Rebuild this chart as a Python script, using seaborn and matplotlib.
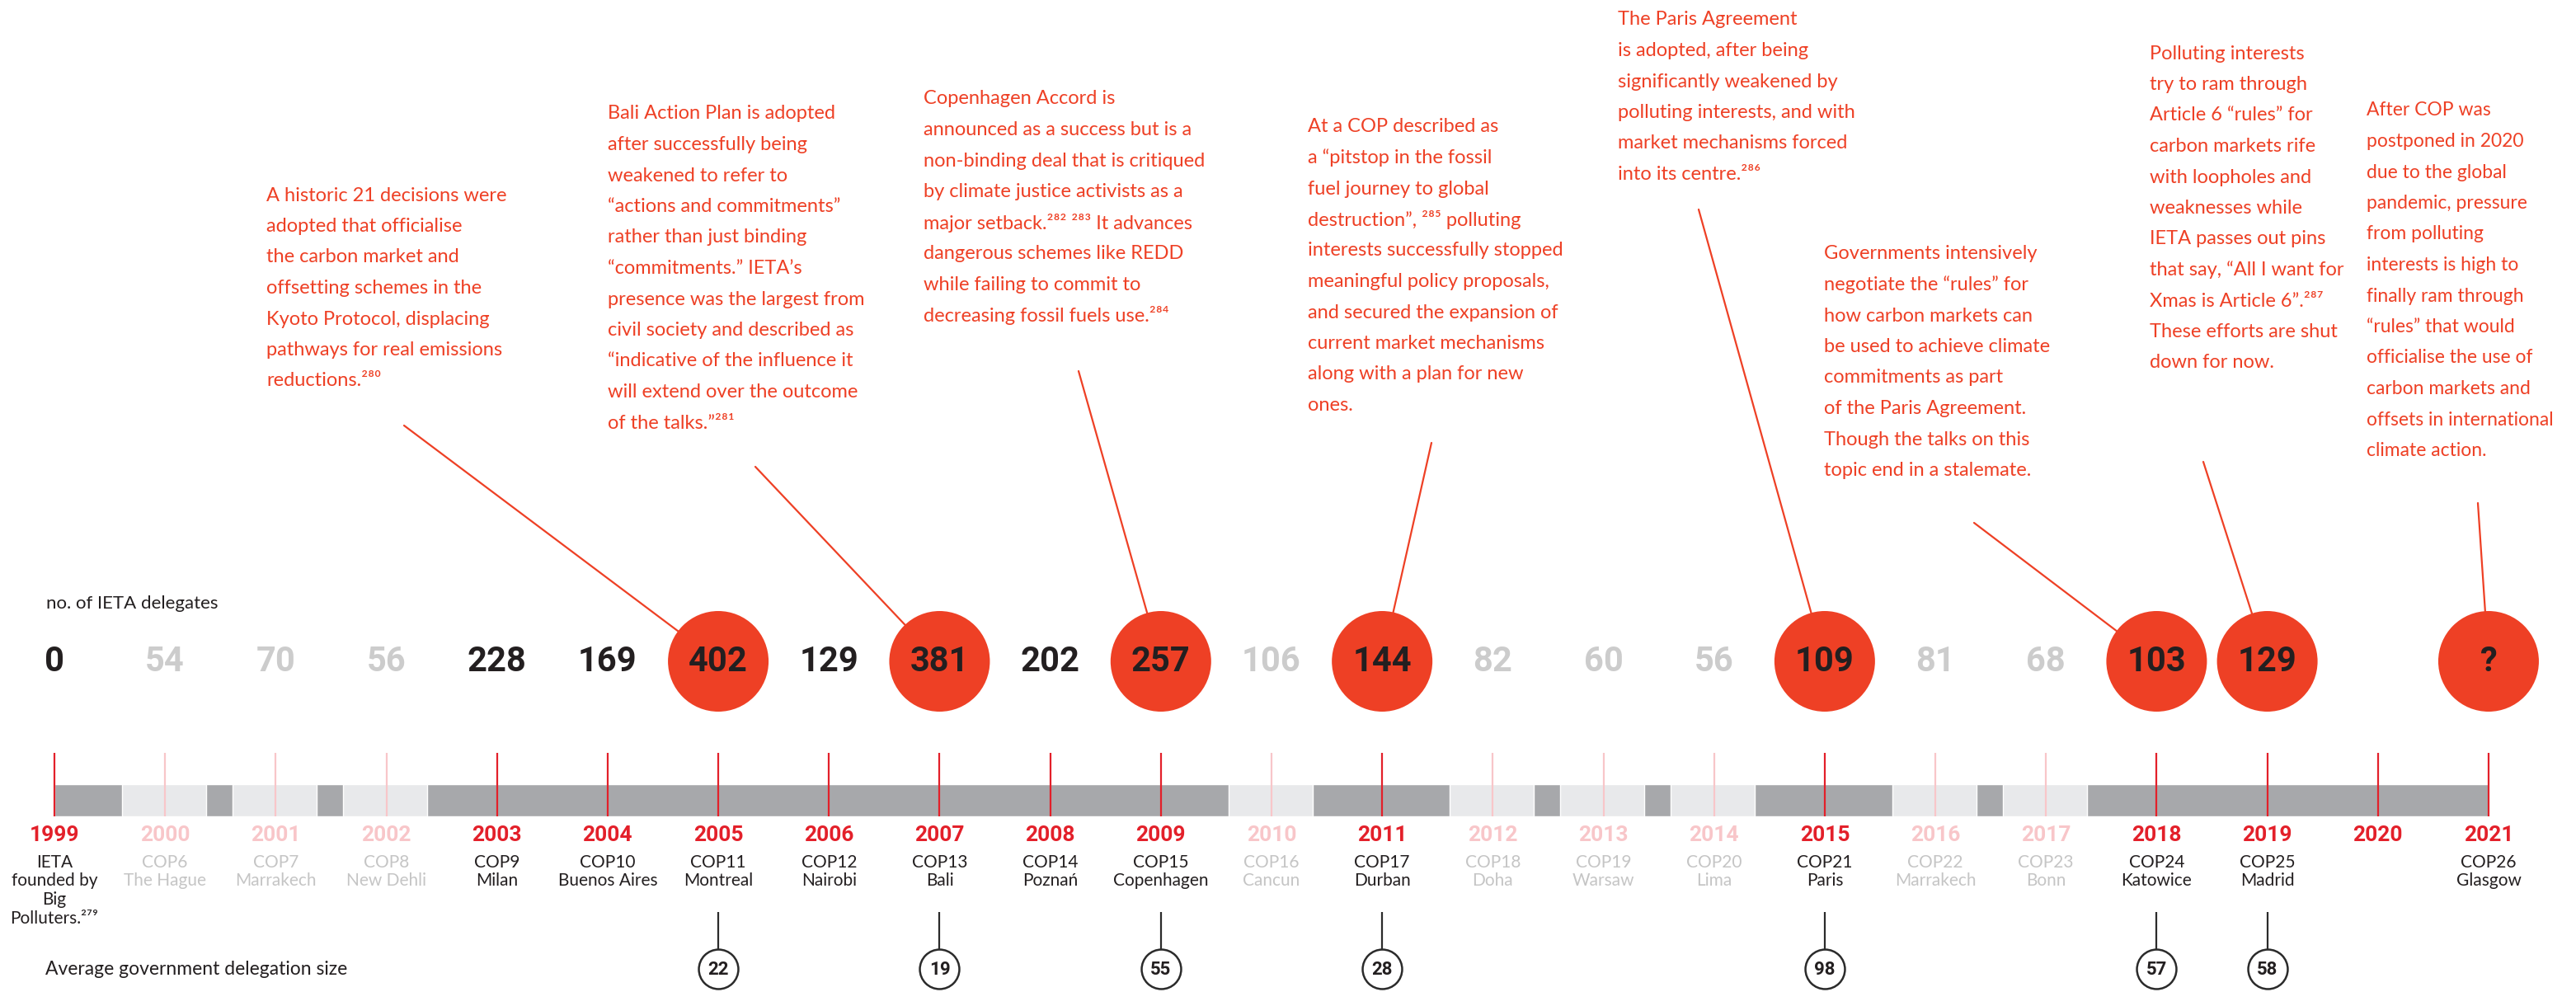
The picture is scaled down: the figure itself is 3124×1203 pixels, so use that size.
import matplotlib
matplotlib.use("Agg")
import matplotlib.pyplot as plt
import seaborn as sns
import pandas as pd

# ---- data -------------------------------------------------------------
years = list(range(1999, 2022))
ieta_delegates = ["0", "54", "70", "56", "228", "169", "402", "129", "381", "202", "257", "106",
                  "144", "82", "60", "56", "109", "81", "68", "103", "129", "", "?"]
cop_labels = ["IETA\nfounded by\nBig\nPolluters.²⁷⁹", "COP6\nThe Hague", "COP7\nMarrakech",
              "COP8\nNew Dehli", "COP9\nMilan", "COP10\nBuenos Aires", "COP11\nMontreal",
              "COP12\nNairobi", "COP13\nBali", "COP14\nPoznań", "COP15\nCopenhagen",
              "COP16\nCancun", "COP17\nDurban", "COP18\nDoha", "COP19\nWarsaw", "COP20\nLima",
              "COP21\nParis", "COP22\nMarrakech", "COP23\nBonn", "COP24\nKatowice",
              "COP25\nMadrid", "", "COP26\nGlasgow"]
faded_years = [2000, 2001, 2002, 2010, 2012, 2013, 2014, 2016, 2017]
circled_years = [2005, 2007, 2009, 2011, 2015, 2018, 2019, 2021]
gov_years = [2005, 2007, 2009, 2011, 2015, 2018, 2019]
gov_sizes = [22, 19, 55, 28, 98, 57, 58]

notes = {
    2005: ["A historic 21 decisions were", "adopted that officialise", "the carbon market and",
           "offsetting schemes in the", "Kyoto Protocol, displacing",
           "pathways for real emissions", "reductions.²⁸⁰"],
    2007: ["Bali Action Plan is adopted", "after successfully being", "weakened to refer to",
           "“actions and commitments”", "rather than just binding", "“commitments.” IETA’s",
           "presence was the largest from", "civil society and described as",
           "“indicative of the influence it", "will extend over the outcome",
           "of the talks.”²⁸¹"],
    2009: ["Copenhagen Accord is", "announced as a success but is a",
           "non-binding deal that is critiqued", "by climate justice activists as a",
           "major setback.²⁸² ²⁸³ It advances", "dangerous schemes like REDD",
           "while failing to commit to", "decreasing fossil fuels use.²⁸⁴"],
    2011: ["At a COP described as", "a “pitstop in the fossil", "fuel journey to global",
           "destruction”, ²⁸⁵ polluting", "interests successfully stopped",
           "meaningful policy proposals,", "and secured the expansion of",
           "current market mechanisms", "along with a plan for new", "ones."],
    2015: ["The Paris Agreement", "is adopted, after being", "significantly weakened by",
           "polluting interests, and with", "market mechanisms forced", "into its centre.²⁸⁶"],
    2018: ["Governments intensively", "negotiate the “rules” for", "how carbon markets can",
           "be used to achieve climate", "commitments as part", "of the Paris Agreement.",
           "Though the talks on this", "topic end in a stalemate."],
    2019: ["Polluting interests", "try to ram through", "Article 6 “rules” for",
           "carbon markets rife", "with loopholes and", "weaknesses while",
           "IETA passes out pins", "that say, “All I want for", "Xmas is Article 6”.²⁸⁷",
           "These efforts are shut", "down for now."],
    2021: ["After COP was", "postponed in 2020", "due to the global", "pandemic, pressure",
           "from polluting", "interests is high to", "finally ram through",
           "“rules” that would", "officialise the use of", "carbon markets and",
           "offsets in international", "climate action."],
}

# ---- layout (pixels) ----------------------------------------------------
W, H = 3124, 1203
X0, STEP = 66, 134.18


def px_to_year(px):
    return 1999 + (px - X0) / STEP


# text x, first line y, connector start x, y
note_pos = {
    2005: (323, 237, 490, 516),
    2007: (737, 138, 916, 566),
    2009: (1120, 120, 1308, 450),
    2011: (1586, 154, 1736, 537),
    2015: (1962, 24, 2060, 254),
    2018: (2212, 308, 2394, 634),
    2019: (2607, 65, 2672, 560),
    2021: (2870, 134, 3005, 610),
}
note_font = {2005: 17, 2007: 17, 2009: 17, 2011: 17, 2015: 17, 2018: 17, 2019: 17, 2021: 16.5}

RED = "#EE4025"
TICK_RED = "#E3202A"
PINK = "#F8C6C9"
DARK = "#231F20"
LIGHT = "#CCCCCC"
TXT = ["Lato", "DejaVu Sans"]
NUM = ["Roboto", "DejaVu Sans"]

sns.set_theme(style="white")
plt.rcParams["font.family"] = TXT

fig = plt.figure(figsize=(W / 100, H / 100), dpi=100)
ax = fig.add_axes([0, 0, 1, 1])
ax.set_xlim(px_to_year(0), px_to_year(W))
ax.set_ylim(H, 0)
ax.axis("off")

df = pd.DataFrame({"year": years, "ieta": ieta_delegates, "cop": cop_labels})
df["faded"] = df["year"].isin(faded_years)

# timeline bar
ax.barh(970.5, years[-1] - years[0], left=years[0], height=39, color="#A7A8AB", zorder=1)
ax.barh([970.5] * len(faded_years), 0.76, left=[y - 0.39 for y in faded_years], height=39,
        color="#E8E9EB", zorder=1)
ax.vlines(df["year"], 913, 990, colors=[PINK if f else TICK_RED for f in df["faded"]],
          lw=1.6, zorder=2)

ax.text(px_to_year(56), 732, "no. of IETA delegates", fontsize=16, color=DARK,
        ha="left", va="center")
ax.text(px_to_year(55), 1176, "Average government delegation size", fontsize=16.5,
        color=DARK, ha="left", va="center")

# connectors + red circles
for yr, (tx, ty, lx, ly) in note_pos.items():
    ax.plot([px_to_year(lx), yr], [ly, 802], color=RED, lw=1.6, zorder=2)
    for i, line in enumerate(notes[yr]):
        ax.text(px_to_year(tx), ty + i * 37.5, line, fontsize=note_font[yr], color=RED,
                ha="left", va="center")

sns.scatterplot(x=circled_years, y=[802] * len(circled_years), s=7716, color=RED,
                edgecolor="none", ax=ax, zorder=3, legend=False)

for _, r in df.iterrows():
    ax.text(r["year"], 802, r["ieta"], fontsize=30, fontweight="bold", family=NUM,
            color=LIGHT if r["faded"] else DARK, ha="center", va="center", zorder=4)
    ax.text(r["year"], 1013, str(r["year"]), fontsize=19, fontweight="bold", family=NUM,
            color=PINK if r["faded"] else TICK_RED, ha="center", va="center")
    for i, line in enumerate(r["cop"].split("\n")):
        ax.text(r["year"], 1046 + i * 22.5, line, fontsize=15,
                color="#C5C5C5" if r["faded"] else DARK, ha="center", va="center")

# government delegation size
ax.vlines(gov_years, 1106, 1152, colors="#2B2B2B", lw=1.6, zorder=2)
sns.scatterplot(x=gov_years, y=[1175] * len(gov_years), s=1190, color="white",
                edgecolor="#2B2B2B", linewidth=1.8, ax=ax, zorder=3, legend=False)
for yr, v in zip(gov_years, gov_sizes):
    ax.text(yr, 1176, str(v), fontsize=16, fontweight="bold", family=NUM, color=DARK,
            ha="center", va="center", zorder=4)

fig.savefig("out.png", dpi=100, facecolor="white")
